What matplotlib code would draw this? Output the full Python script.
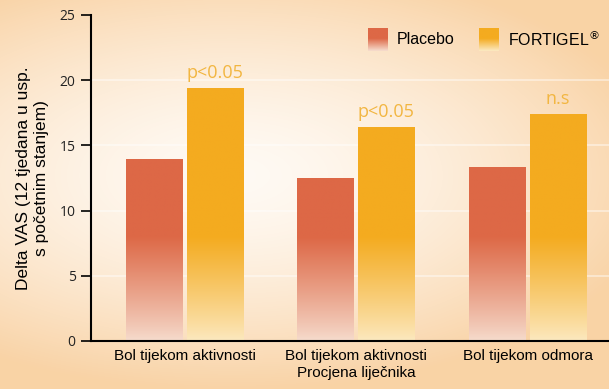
import numpy as np
import matplotlib.pyplot as plt
from matplotlib.colors import to_rgb
from matplotlib.patches import Rectangle

# data
categories = ["Bol tijekom aktivnosti", "Bol tijekom aktivnosti\nProcjena liječnika", "Bol tijekom odmora"]
placebo = [13.9, 12.5, 13.3]
fortigel = [19.4, 16.4, 17.4]
p_labels = ["p<0.05", "p<0.05", "n.s"]
series_names = ["Placebo", "FORTIGEL$^{\u00ae}$"]

plt.rcParams['font.family'] = ['Liberation Sans', 'DejaVu Sans']

fig = plt.figure(figsize=(6.09, 3.89), dpi=100)

# background gradient
bg = fig.add_axes([0, 0, 1, 1], zorder=-10)
h, w = 389, 609
yy, xx = np.mgrid[0:h, 0:w]
xn, yn = xx / w, yy / h
r = np.sqrt(((xn - 0.38) / 0.72) ** 2 + ((yn - 0.45) / 0.55) ** 2)
t = np.clip(r, 0, 1) ** 1.5
top = np.clip(1 - yy / 20.0, 0, 1) * 0.7
t = np.clip(np.maximum(t, top), 0, 1)
c0 = np.array(to_rgb("#fffaf4"))
c1 = np.array(to_rgb("#f9d3a6"))
img = c0 + (c1 - c0) * t[..., None]
bg.imshow(img, aspect='auto', extent=[0, 1, 0, 1], origin='upper')
bg.axis('off')

ax = fig.add_axes([91 / w, 1 - 341 / h, 1 - 91 / w, (341 - 15) / h])
ax.patch.set_alpha(0)

top_cols = ["#dd6846", "#f4ab1f"]
low_cols = ["#f6dccd", "#fce9c0"]


def grad_bar(x0, width, height, ctop, clow):
    n = 200
    ys = np.linspace(0, height, n)
    f = np.clip(ys / 8.0, 0, 1) ** 0.9
    a, b = np.array(to_rgb(clow)), np.array(to_rgb(ctop))
    col = a + (b - a) * f[:, None]
    ax.imshow(col[:, None, :], aspect='auto', origin='lower',
              extent=[x0, x0 + width, 0, height], zorder=2,
              interpolation='bilinear')
    ax.add_patch(Rectangle((x0, 0), width, height, fill=False, lw=0))


bw = 0.33
off = 0.177
x = np.arange(len(categories))
for i in range(len(categories)):
    grad_bar(x[i] - off - bw / 2, bw, placebo[i], top_cols[0], low_cols[0])
    grad_bar(x[i] + off - bw / 2, bw, fortigel[i], top_cols[1], low_cols[1])
    ax.text(x[i] + off, fortigel[i] + 0.45, p_labels[i], ha='center', va='bottom',
            color="#f2b641", fontsize=13, family=['Open Sans', 'DejaVu Sans'])

# faint white grid
for yv in [5, 10, 15, 20]:
    ax.axhline(yv, color='white', lw=1.2, alpha=0.5, zorder=1)

ax.spines['top'].set_visible(False)
ax.spines['right'].set_visible(False)
ax.spines['left'].set_linewidth(1.5)
ax.spines['bottom'].set_linewidth(1.5)
ax.set_yticks([0, 5, 10, 15, 20, 25])
ax.tick_params(axis='y', length=7, width=1.2, labelsize=10, pad=4, labelcolor='#222222')
for lab in ax.get_yticklabels():
    lab.set_family(['Open Sans', 'DejaVu Sans'])
ax.set_xticks(x)
ax.set_xticklabels(categories, fontsize=11, family=['Liberation Sans Narrow', 'Liberation Sans'],
                   linespacing=1.2)
ax.tick_params(axis='x', length=0, pad=6)

ax.set_ylabel("Delta VAS (12 tjedana u usp.\ns početnim stanjem)", fontsize=12.5,
              linespacing=1.25, labelpad=8)

# legend with gradient squares
for j, name in enumerate(series_names):
    lx = 1.07 + j * 0.645
    col = np.array(to_rgb(low_cols[j])) + (np.array(to_rgb(top_cols[j])) - np.array(to_rgb(low_cols[j]))) * \
        np.clip(np.linspace(0, 1, 50) / 0.55, 0, 1)[:, None]
    ax.imshow(col[:, None, :], aspect='auto', origin='lower',
              extent=[lx, lx + 0.115, 22.25, 24.0], zorder=3)
    ax.text(lx + 0.17, 23.1, name, ha='left', va='center', fontsize=11.5)
ax.set_xlim(-0.545, 2.475)
ax.set_ylim(0, 25)

fig.savefig("out.png", dpi=100)
